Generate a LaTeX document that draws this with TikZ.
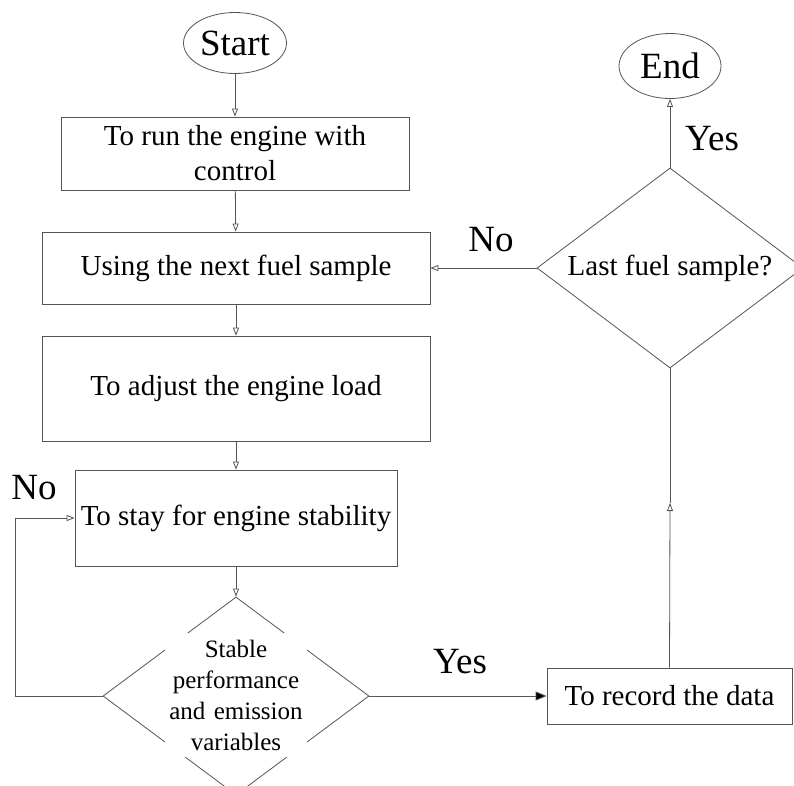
\documentclass[tikz,border=0pt]{standalone}
\usepackage{fontspec}
\setmainfont{Liberation Serif}
\usetikzlibrary{shapes.geometric,arrows.meta}

\definecolor{linegray}{RGB}{85,85,85}

\tikzset{
	box/.style={draw=linegray, line width=0.8pt, rectangle, inner sep=0pt, align=center, font=\fontsize{29}{35}\selectfont},
	terminal/.style={draw=linegray, line width=0.8pt, ellipse, inner sep=0pt, font=\fontsize{37}{40}\selectfont},
	decision/.style={draw=linegray, line width=0.8pt, diamond, aspect=1.33, inner sep=0pt, font=\fontsize{29}{35}\selectfont},
	answer/.style={font=\fontsize{37}{40}\selectfont, inner sep=0pt},
	every edge/.append style={draw=linegray, line width=0.8pt},
}

\begin{document}
\begin{tikzpicture}[x=1pt, y=-1pt, >={Triangle[open, length=8pt, width=6pt]}]
	\useasboundingbox[fill=white] (0,0) rectangle (794,785);

	\node[terminal, minimum width=103pt, minimum height=61pt] (start) at (235,43) {Start};
	\node[box, minimum width=348pt, minimum height=73pt] (run) at (235,153.5) {To run the engine with\\control};
	\node[box, minimum width=388pt, minimum height=72pt] (fuel) at (236,268) {Using the next fuel sample};
	\node[box, minimum width=388pt, minimum height=105pt] (load) at (236,388.5) {To adjust the engine load};
	\node[box, minimum width=322pt, minimum height=96pt] (stay) at (236,518) {To stay for engine stability};
	\node[decision, minimum width=266pt, minimum height=198pt] (stab) at (236,696) {};
	\node[fill=white, inner xsep=0pt, inner ysep=0pt, text width=142pt, minimum height=124pt, align=center, font=\fontsize{25}{31}\selectfont] (stabtext) at (236,695) {Stable\\performance\\and emission\\variables};
	\node[box, minimum width=245pt, minimum height=56pt] (rec) at (669.5,696) {To record the data};
	\node[decision, minimum width=266pt, minimum height=200pt] (last) at (670,268) {Last fuel sample?};
	\node[terminal, minimum width=102pt, minimum height=65pt] (end) at (670,66) {End};

	\coordinate (loop) at (15,696);
	\coordinate (up) at (670,503);

	\path [->] (start) edge (run);
	\path [->] (run) edge (fuel);
	\path [->] (fuel) edge (load);
	\path [->] (load) edge (stay);
	\path [->] (stay) edge (stab);
	\draw [->, linegray, line width=0.8pt] (stab.west) -- (loop) |- (stay.west);
	\draw [-{Triangle[length=11pt, width=9pt, fill=black]}, linegray, line width=0.8pt] (stab.east) -- (rec.west);
	\path [->] (rec.north) edge (up);
	\path (up) edge (last.south);
	\path [->] (last.west) edge (fuel.east);
	\path [->] (last.north) edge (end.south);

	\node[answer] (nostay) at (34,488) {No};
	\node[answer] (yesrec) at (460,662) {Yes};
	\node[answer] (nofuel) at (491,240) {No};
	\node[answer] (yesend) at (712,139) {Yes};
\end{tikzpicture}
\end{document}
